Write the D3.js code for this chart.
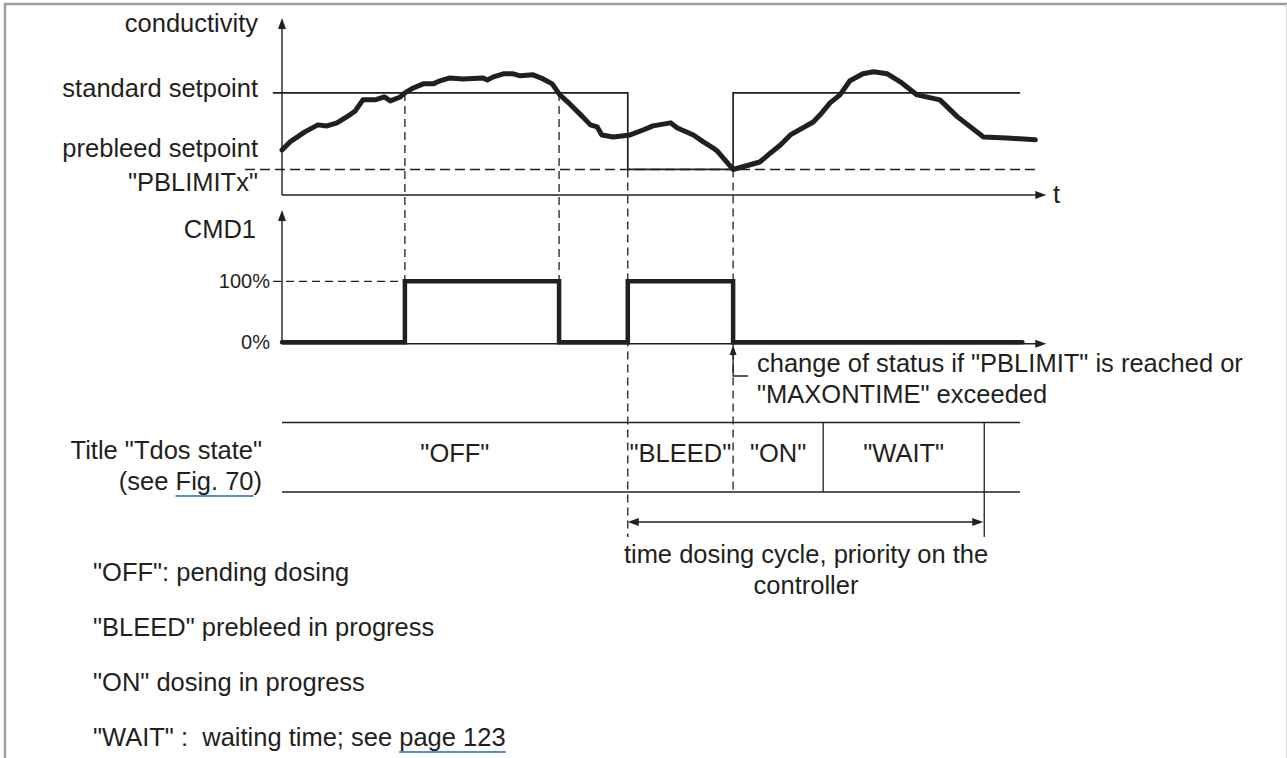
<!DOCTYPE html>
<html><head><meta charset="utf-8">
<script src="https://cdn.jsdelivr.net/npm/d3@7"></script>
<style>
html,body{margin:0;padding:0;background:#fff;}
svg{display:block;}
text{font-family:"Liberation Sans",Arial,Helvetica,sans-serif;fill:#231f20;white-space:pre;}
</style></head><body>
<svg id="c" width="1287" height="758"></svg>
<script>
// ---------------- data ----------------
const condT = [0,1.05,3.0,4.7,5.9,7.2,8.9,9.6,10.6,12.2,13.4,14.2,15.5,16.1,17.2,18.5,19.8,20.7,22.0,23.7,26.3,26.9,27.7,29.0,30.3,31.2,32.9,34.2,35.4,36.4,37.7,39.4,40.4,41.3,41.9,43.4,45.6,47.3,48.6,50.9,51.8,53.9,55.2,56.5,57.0,59.1,62.6,64.0,65.3,66.6,69.6,70.5,71.8,73.1,74.4,76.1,77.5,79.3,81.0,83.2,86.2,88.5,91.9,95.0,98.7];
const condV = [26.5,31.2,37.1,41.2,40.6,42.4,47.1,49.4,55.9,55.9,57.6,55.3,57.6,60.0,62.9,65.3,65.3,67.1,68.8,68.2,68.8,67.6,69.4,71.2,71.2,70.0,70.6,68.2,65.3,58.8,53.5,45.9,41.2,40.0,35.3,34.1,35.3,38.2,40.6,42.4,39.4,35.3,31.2,27.6,25.9,15.0,19.4,24.7,29.4,35.3,42.9,47.1,54.1,58.8,67.1,71.2,72.4,71.2,66.5,58.8,55.9,45.9,34.1,33.5,32.4];
const standardSetpoint = 60;
const prebleedSetpoint = 15;
const setpointT = [-1.2, 45.3, 45.3, 59.1, 59.1, 96.7];
const setpointV = [60, 60, 15, 15, 60, 60];
const prebleedRange = [-4.85, 99.0];
const cmdT = [0, 16.1, 36.3, 45.3, 59.1, 97.0];
const cmdV = [0, 100, 0, 100, 0, 0];
const cmdTicks = [0, 100];
const stateNames = ['"OFF"', '"BLEED"', '"ON"', '"WAIT"'];
const stateStart = [0, 45.3, 59.1, 70.9];
const stateEnd = [45.3, 59.1, 70.9, 92.0];
const tableEnd = 96.7;
const cycleRange = [45.3, 92.0];
const legendLines = ['"OFF": pending dosing', '"BLEED" prebleed in progress', '"ON" dosing in progress', '"WAIT" :  waiting time; see page 123'];

// ---------------- scales ----------------
const svg = d3.select('#c');
const INK = '#231f20';
const FS = 25.5;
const x = d3.scaleLinear().domain([0, 100]).range([282, 1045.3]);
const yC = d3.scaleLinear().domain([0, 104]).range([195, 18]);
const yCmd = d3.scaleLinear().domain([0, 100]).range([342.3, 281.3]);

// frame
svg.append('line').attr('x1', 4).attr('x2', 1287).attr('y1', 4).attr('y2', 4).attr('stroke', '#9d9d9d').attr('stroke-width', 2.5);
svg.append('line').attr('x1', 5).attr('x2', 5).attr('y1', 3).attr('y2', 758).attr('stroke', '#9d9d9d').attr('stroke-width', 2.5);
svg.append('line').attr('x1', 1286.5).attr('x2', 1286.5).attr('y1', 4).attr('y2', 758).attr('stroke', '#d8d8d8').attr('stroke-width', 1);

function arrowHead(px, py, dir, len = 11, w = 4) {
  let d;
  if (dir === 'up') d = `M${px},${py} L${px - w},${py + len} L${px + w},${py + len} Z`;
  if (dir === 'right') d = `M${px},${py} L${px - len},${py - w} L${px - len},${py + w} Z`;
  if (dir === 'left') d = `M${px},${py} L${px + len},${py - w} L${px + len},${py + w} Z`;
  svg.append('path').attr('d', d).attr('fill', INK);
}
function line(x1, y1, x2, y2, w = 1.4, dash = null) {
  const l = svg.append('line').attr('x1', x1).attr('y1', y1).attr('x2', x2).attr('y2', y2)
    .attr('stroke', INK).attr('stroke-width', w);
  if (dash) l.attr('stroke-dasharray', dash);
  return l;
}
function label(txt, px, py, anchor = 'start', fs = FS) {
  return svg.append('text').attr('x', px).attr('y', py).attr('text-anchor', anchor)
    .attr('font-size', fs).text(txt);
}
const DASH = '8,5';

// ---------------- top chart ----------------
line(x(0), yC(0), x(0), yC(104) + 6);
arrowHead(x(0), yC(104), 'up');
line(x(0), yC(0), x(100) - 6, yC(0));
arrowHead(x(100) + 1, yC(0), 'right');
label('t', 1053, 203);

// prebleed dashed
line(x(prebleedRange[0]), yC(prebleedSetpoint), x(prebleedRange[1]), yC(prebleedSetpoint), 1.4, '10,5');

// setpoint step line
const spData = setpointT.map((t, i) => [t, setpointV[i]]);
svg.append('path').attr('d', d3.line().x(d => x(d[0])).y(d => yC(d[1]))(spData))
  .attr('fill', 'none').attr('stroke', INK).attr('stroke-width', 1.7);

// labels
label('conductivity', 258, 32, 'end');
label('standard setpoint', 258, yC(standardSetpoint) + 4, 'end');
label('prebleed setpoint', 258, yC(prebleedSetpoint) - 12, 'end');
label('"PBLIMITx"', 258, yC(prebleedSetpoint) + 22, 'end');

// ---------------- marker dashed lines ----------------
line(x(16.1), yC(standardSetpoint), x(16.1), yCmd(100), 1.3, DASH);
line(x(36.3), yC(standardSetpoint), x(36.3), yCmd(100), 1.3, DASH);
line(x(45.3), yC(prebleedSetpoint), x(45.3), 537, 1.3, DASH);
line(x(59.1), yC(prebleedSetpoint), x(59.1), 492, 1.3, DASH);

// conductivity curve
const condData = condT.map((t, i) => [t, condV[i]]);
svg.append('path').attr('d', d3.line().x(d => x(d[0])).y(d => yC(d[1])).curve(d3.curveLinear)(condData))
  .attr('fill', 'none').attr('stroke', INK).attr('stroke-width', 5)
  .attr('stroke-linejoin', 'round').attr('stroke-linecap', 'round');

// ---------------- CMD chart ----------------
line(x(0), yCmd(0) + 1.5, x(0), 216);
arrowHead(x(0), 210, 'up');
line(x(0), yCmd(0) + 1.5, x(100) - 6, yCmd(0) + 1.5);
arrowHead(x(100) + 1, yCmd(0) + 1.5, 'right');
label('CMD1', 256, 238, 'end');

const axis = d3.axisLeft(yCmd).tickValues(cmdTicks).tickFormat(d => d + '%').tickSize(0).tickPadding(12);
const ag = svg.append('g').attr('transform', `translate(${x(0)},0)`).call(axis);
ag.select('.domain').remove();
ag.selectAll('text').attr('font-size', 20).attr('fill', INK).style('font-family', '"Liberation Sans",Arial,sans-serif');

line(273, yCmd(100), x(16.1), yCmd(100), 1.3, DASH);

const cmdData = cmdT.map((t, i) => [t, cmdV[i]]);
svg.append('path').attr('d', d3.line().x(d => x(d[0])).y(d => yCmd(d[1])).curve(d3.curveStepAfter)(cmdData))
  .attr('fill', 'none').attr('stroke', INK).attr('stroke-width', 4.5)
  .attr('stroke-linejoin', 'miter').attr('stroke-linecap', 'round');

// change of status pointer
svg.append('path').attr('d', `M${x(59.1) + 15},376 L${x(59.1)},376 L${x(59.1)},352`)
  .attr('fill', 'none').attr('stroke', INK).attr('stroke-width', 1.3);
arrowHead(x(59.1), 345, 'up', 10, 3.5);
label('change of status if "PBLIMIT" is reached or', 757, 372);
label('"MAXONTIME" exceeded', 757, 403);

// ---------------- state table ----------------
line(x(0), 422.5, x(tableEnd), 422.5, 1.5);
line(x(0), 492, x(tableEnd), 492, 1.5);
line(x(stateEnd[2]), 422.5, x(stateEnd[2]), 492, 1.3);
line(x(stateEnd[3]), 422.5, x(stateEnd[3]), 537, 1.3);
stateNames.forEach((s, i) => {
  label(s, (x(stateStart[i]) + x(stateEnd[i])) / 2, 462, 'middle');
});
label('Title "Tdos state"', 262, 459, 'end');
const fig = label('(see Fig. 70)', 262, 490, 'end');
{
  const node = fig.node();
  const s = node.getStartPositionOfChar(5).x;
  const e = node.getEndPositionOfChar(11).x;
  svg.append('line').attr('x1', s).attr('x2', e).attr('y1', 496).attr('y2', 496)
    .attr('stroke', '#5b8bcb').attr('stroke-width', 2);
}

// cycle arrow
line(x(cycleRange[0]) + 6, 522, x(cycleRange[1]) - 6, 522, 1.4);
arrowHead(x(cycleRange[0]), 522, 'left', 11, 4);
arrowHead(x(cycleRange[1]) - 1, 522, 'right', 11, 4);
const cx = (x(cycleRange[0]) + x(cycleRange[1])) / 2;
label('time dosing cycle, priority on the', cx, 563, 'middle');
label('controller', cx, 594, 'middle');

// ---------------- legend ----------------
const legendY = [581, 636, 691, 746];
legendLines.forEach((s, i) => {
  const t = label(s, 93, legendY[i]);
  if (i === 3) {
    const node = t.node();
    const idx = s.indexOf('page 123');
    const st = node.getStartPositionOfChar(idx).x;
    const en = node.getEndPositionOfChar(s.length - 1).x;
    svg.append('line').attr('x1', st).attr('x2', en).attr('y1', legendY[i] + 6).attr('y2', legendY[i] + 6)
      .attr('stroke', '#5b8bcb').attr('stroke-width', 2);
  }
});
</script>
</body></html>
